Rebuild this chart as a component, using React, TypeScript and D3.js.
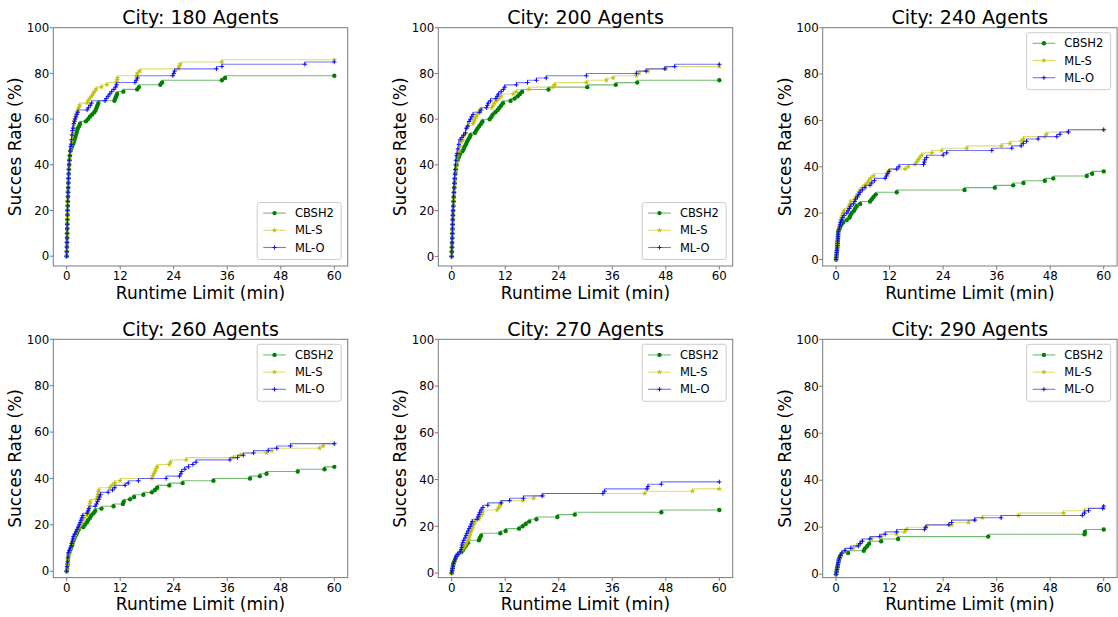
import React from "react";
import * as d3 from "d3";

type Pt = [number, number];

const panelTitles = ["City: 180 Agents", "City: 200 Agents", "City: 240 Agents", "City: 260 Agents", "City: 270 Agents", "City: 290 Agents"];
const seriesNames = ["CBSH2", "ML-S", "ML-O"];
const legendCorners = ["lower right", "lower right", "upper right", "upper right", "upper right", "upper right"];
const xTicks = [0, 12, 24, 36, 48, 60];
const yTicks = [0, 20, 40, 60, 80, 100];

// ---- 180 agents ----
const cbsh2_180: Pt[] = [[0,0],[0.03,2],[0.05,4],[0.07,6],[0.09,8],[0.1,10],[0.12,12],[0.14,14],[0.16,16],[0.18,18],[0.2,20],[0.23,22],[0.26,24],[0.29,26],[0.32,28],[0.35,30],[0.38,32],[0.42,34],[0.46,36],[0.5,38],[0.55,40],[0.62,42],[0.72,44],[0.85,46],[1.0,47],[1.2,48],[1.4,49],[1.6,50],[1.75,51],[1.9,52],[2.05,53],[2.2,54],[2.35,55],[2.5,56],[2.8,57],[3.0,58],[4.3,59],[4.8,60],[5.2,61],[5.7,62],[6.2,63],[6.5,64],[6.7,65],[6.9,66],[7.1,67],[10.7,68],[10.9,69],[11.1,70],[11.3,71],[12.7,72],[15.8,73],[16.2,74],[21.0,75],[21.4,76],[34.8,77],[35.5,78],[60,79]];
const mls_180: Pt[] = [[0,0],[0.03,2],[0.05,4],[0.07,6],[0.09,8],[0.1,10],[0.12,12],[0.14,14],[0.16,16],[0.18,18],[0.2,20],[0.22,22],[0.24,24],[0.27,26],[0.3,28],[0.33,30],[0.36,32],[0.4,34],[0.44,36],[0.5,38],[0.56,40],[0.64,42],[0.75,44],[0.9,46],[1.0,48],[1.1,50],[1.2,51],[1.3,53],[1.4,54],[1.5,56],[1.6,57],[1.7,59],[1.8,60],[1.9,61],[2.1,62],[2.3,63],[2.5,64],[2.7,65],[2.9,66],[4.6,67],[4.8,68],[5.2,69],[5.6,70],[5.9,71],[6.2,72],[6.6,73],[7.8,74],[9.0,75],[11.1,76],[11.3,77],[11.4,78],[15.6,79],[15.9,80],[16.4,81],[25.0,82],[25.2,83],[25.5,84],[34.8,85],[60,86]];
const mlo_180: Pt[] = [[0,0],[0.03,2],[0.05,4],[0.07,6],[0.09,8],[0.1,10],[0.12,12],[0.14,14],[0.16,16],[0.18,18],[0.2,20],[0.22,22],[0.24,24],[0.27,26],[0.3,28],[0.33,30],[0.36,32],[0.4,34],[0.44,36],[0.49,38],[0.55,40],[0.62,42],[0.7,44],[0.8,46],[0.9,48],[1.0,49],[1.1,51],[1.2,53],[1.3,55],[1.4,56],[1.6,58],[1.75,59],[1.9,60],[2.1,61],[2.3,62],[2.5,63],[4.6,64],[4.9,65],[5.3,66],[5.6,67],[8.6,68],[8.9,69],[9.3,70],[9.7,71],[10.1,72],[10.6,73],[11.0,74],[11.2,75],[15.3,76],[15.6,77],[15.9,78],[23.8,79],[24.0,80],[24.2,81],[33.6,82],[34.8,83],[53.4,84],[60,85]];

// ---- 200 agents ----
const cbsh2_200: Pt[] = [[0,0],[0.03,2],[0.06,4],[0.09,6],[0.12,8],[0.15,10],[0.18,12],[0.21,14],[0.25,16],[0.29,18],[0.33,20],[0.38,22],[0.43,24],[0.48,26],[0.54,28],[0.6,30],[0.67,32],[0.75,34],[0.85,36],[0.95,38],[1.1,40],[1.3,42],[1.5,43],[1.7,44],[1.9,45],[2.4,46],[2.7,47],[2.9,48],[3.2,49],[3.4,50],[3.7,51],[4.0,52],[4.2,53],[5.2,54],[5.5,55],[5.8,56],[6.2,57],[6.6,58],[6.9,59],[8.5,60],[8.9,61],[9.2,62],[9.8,63],[10.3,64],[10.7,65],[11.1,66],[11.5,67],[13.2,68],[14.1,69],[14.8,70],[15.3,71],[15.8,72],[21.7,73],[30.4,74],[36.8,75],[41.6,76],[60,77]];
const mls_200: Pt[] = [[0,0],[0.03,2],[0.06,4],[0.09,6],[0.12,8],[0.15,10],[0.18,12],[0.21,14],[0.24,16],[0.28,18],[0.32,20],[0.36,22],[0.41,24],[0.46,26],[0.52,28],[0.58,30],[0.65,32],[0.73,34],[0.82,36],[0.92,38],[1.0,40],[1.2,42],[1.4,44],[1.7,46],[1.9,48],[2.2,50],[2.5,51],[2.8,53],[3.1,54],[3.4,56],[3.7,57],[4.8,58],[5.0,59],[5.2,60],[5.5,61],[5.7,62],[6.1,63],[6.3,64],[9.0,65],[9.3,66],[9.6,67],[10.1,68],[10.6,69],[11.1,70],[13.8,71],[14.5,72],[17.3,73],[22.7,74],[23.1,75],[30.2,76],[34.7,77],[36.2,78],[41.4,79],[42.0,80],[44.0,81],[48.0,82],[60,83]];
const mlo_200: Pt[] = [[0,0],[0.03,2],[0.06,4],[0.09,6],[0.12,8],[0.15,10],[0.18,12],[0.21,14],[0.24,16],[0.27,18],[0.3,20],[0.34,22],[0.38,24],[0.42,26],[0.47,28],[0.52,30],[0.58,32],[0.64,34],[0.7,36],[0.78,38],[0.86,40],[0.95,42],[1.05,44],[1.2,45],[1.4,47],[1.6,49],[1.9,51],[2.3,52],[2.7,53],[3.1,54],[3.3,56],[3.6,57],[3.9,59],[4.2,60],[4.5,61],[4.8,62],[6.3,63],[6.6,64],[7.8,65],[8.0,66],[8.2,67],[8.7,68],[9.9,69],[10.2,70],[10.5,71],[11.1,72],[11.6,73],[11.9,74],[14.5,75],[17.0,76],[19.0,77],[21.2,78],[30.2,79],[41.4,80],[43.6,81],[47.8,82],[50.0,83],[60,84]];

// ---- 240 agents ----
const cbsh2_240: Pt[] = [[0,0],[0.05,1],[0.1,2],[0.15,3],[0.2,4],[0.25,5],[0.3,6],[0.33,7],[0.36,8],[0.4,9],[0.43,10],[0.46,11],[0.5,12],[0.7,13],[0.9,14],[1.2,15],[1.6,16],[2.4,17],[3.0,18],[3.2,19],[3.5,20],[4.0,21],[4.3,22],[4.6,23],[5.4,24],[7.6,25],[8.0,26],[8.4,27],[8.9,28],[13.6,29],[28.8,30],[35.6,31],[39.7,32],[42.0,33],[46.8,34],[48.7,35],[56.2,36],[57.4,37],[60,38]];
const mls_240: Pt[] = [[0,0],[0.05,1],[0.1,2],[0.15,3],[0.2,4],[0.25,5],[0.3,6],[0.33,7],[0.36,8],[0.4,9],[0.43,10],[0.46,11],[0.5,12],[0.6,13],[0.7,14],[0.8,15],[0.9,16],[1.0,17],[1.2,18],[1.3,19],[1.5,20],[1.8,21],[2.7,22],[2.9,23],[3.1,24],[3.3,25],[4.2,26],[4.4,27],[4.8,28],[5.1,29],[5.4,30],[5.9,31],[6.5,32],[7.0,33],[7.3,34],[7.8,35],[8.4,36],[11.3,37],[11.7,38],[15.5,39],[16.2,40],[17.7,41],[18.1,42],[18.4,43],[18.8,44],[19.2,45],[21.5,46],[23.7,47],[29.3,48],[37.1,49],[39.0,50],[41.6,51],[42.0,52],[46.8,53],[47.2,54],[52.0,55],[60,56]];
const mlo_240: Pt[] = [[0,0],[0.05,1],[0.1,2],[0.15,3],[0.2,4],[0.25,5],[0.3,6],[0.33,7],[0.36,8],[0.4,9],[0.43,10],[0.46,11],[0.5,12],[0.65,13],[0.8,14],[0.9,15],[1.0,16],[1.25,17],[1.5,18],[1.8,19],[2.4,20],[2.7,21],[3.0,22],[3.3,23],[3.9,24],[4.2,25],[4.4,26],[4.8,27],[5.1,28],[5.4,29],[5.9,30],[6.5,31],[7.6,32],[8.0,33],[8.6,34],[11.0,35],[11.3,36],[11.6,37],[11.9,38],[13.6,39],[14.1,40],[19.6,41],[19.8,42],[19.9,43],[20.3,44],[24.0,45],[24.8,46],[34.9,47],[39.4,48],[41.5,49],[42.0,50],[42.7,51],[45.3,52],[49.5,53],[50.2,54],[52.1,55],[60,56]];

// ---- 260 agents ----
const cbsh2_260: Pt[] = [[0,0],[0.1,1],[0.2,3],[0.3,5],[0.4,7],[0.6,8],[0.75,9],[1.0,10],[1.2,11],[1.3,12],[1.5,13],[1.7,14],[1.9,15],[2.2,16],[2.4,17],[2.7,18],[3.7,19],[4.1,20],[4.5,21],[4.8,22],[5.2,23],[5.5,24],[6.0,25],[6.4,26],[7.8,27],[10.5,28],[12.6,29],[12.8,30],[14.2,31],[15.1,32],[17.2,33],[19.1,34],[19.8,35],[20.3,36],[23.0,37],[26.0,38],[32.9,39],[41.1,40],[43.3,41],[44.8,42],[51.8,43],[57.8,44],[60,45]];
const mls_260: Pt[] = [[0,0],[0.1,1],[0.2,3],[0.3,5],[0.4,7],[0.6,8],[0.8,9],[1.0,10],[1.2,12],[1.4,13],[1.6,14],[1.8,15],[2.0,16],[2.2,17],[2.5,18],[2.8,19],[3.1,20],[3.4,21],[3.7,22],[3.9,23],[4.5,24],[4.7,25],[4.9,26],[5.0,27],[5.1,28],[5.2,29],[5.3,30],[6.7,31],[6.9,32],[7.0,33],[7.1,34],[7.2,35],[9.7,36],[10.2,37],[10.8,38],[12.0,39],[19.1,40],[19.3,41],[19.5,42],[19.8,43],[20.0,44],[20.3,45],[23.0,46],[23.3,47],[26.8,48],[37.4,49],[38.9,50],[44.8,51],[46.0,52],[56.7,53],[57.5,54],[60,55]];
const mlo_260: Pt[] = [[0,0],[0.1,2],[0.2,4],[0.3,6],[0.4,8],[0.6,9],[0.8,10],[1.0,11],[1.1,12],[1.3,13],[1.4,14],[1.5,15],[1.8,16],[2.1,17],[2.3,18],[2.6,19],[2.8,20],[3.0,21],[3.2,22],[3.4,23],[3.6,24],[4.6,25],[4.8,26],[5.0,27],[6.4,28],[6.7,29],[6.9,30],[7.2,31],[7.4,32],[7.6,33],[9.3,34],[10.3,35],[10.8,36],[13.1,37],[13.8,38],[16.1,39],[22.3,40],[25.3,41],[25.6,42],[25.8,43],[26.5,44],[27.3,45],[28.3,46],[29.0,47],[36.6,48],[38.3,49],[39.6,50],[41.9,51],[45.2,52],[47.1,53],[50.2,54],[60,55]];

// ---- 270 agents ----
const cbsh2_270: Pt[] = [[0,0],[0.1,1],[0.2,2],[0.3,3],[0.4,4],[0.6,5],[0.8,6],[1.0,7],[1.4,8],[2.2,9],[2.6,10],[2.9,11],[3.3,12],[3.7,13],[6.1,14],[6.3,15],[6.6,16],[10.9,17],[12.1,18],[15.1,19],[15.9,20],[16.6,21],[17.4,22],[19.0,23],[23.7,24],[27.6,25],[47.0,26],[60,27]];
const mls_270: Pt[] = [[0,0],[0.1,1],[0.2,2],[0.3,3],[0.4,4],[0.6,5],[0.8,6],[1.0,7],[1.4,8],[1.9,9],[2.5,10],[2.8,11],[3.1,12],[3.4,13],[3.7,14],[3.9,15],[4.0,16],[4.2,17],[4.4,18],[4.6,19],[4.8,20],[5.0,21],[5.2,22],[6.1,23],[6.3,24],[6.7,25],[7.0,26],[10.2,27],[10.6,28],[10.9,29],[11.1,30],[16.0,31],[18.4,32],[20.5,33],[43.3,34],[54.0,35],[60,36]];
const mlo_270: Pt[] = [[0,0],[0.1,1],[0.2,2],[0.3,3],[0.4,4],[0.6,5],[0.8,6],[1.0,7],[1.4,8],[1.9,9],[2.1,10],[2.2,11],[2.3,12],[2.5,13],[2.7,14],[3.0,15],[3.2,16],[3.4,17],[3.7,18],[3.9,19],[4.2,20],[4.4,21],[4.6,22],[5.7,23],[5.9,24],[6.1,25],[6.3,26],[6.6,27],[7.0,28],[8.1,29],[11.1,30],[13.0,31],[16.1,32],[20.3,33],[33.9,34],[34.3,35],[43.8,36],[44.0,37],[47.0,38],[60,39]];

// ---- 290 agents ----
const cbsh2_290: Pt[] = [[0,0],[0.1,1],[0.2,2],[0.3,3],[0.4,4],[0.5,5],[0.6,6],[0.8,7],[1.0,8],[2.7,9],[6.2,10],[6.5,11],[7.0,12],[7.4,13],[10.1,14],[13.9,15],[34.1,16],[55.7,17],[55.8,18],[60,19]];
const mls_290: Pt[] = [[0,0],[0.1,1],[0.2,2],[0.3,3],[0.4,4],[0.5,5],[0.6,6],[0.8,7],[1.0,8],[1.3,9],[2.0,10],[3.9,11],[4.6,12],[5.3,13],[5.7,14],[8.0,15],[10.2,16],[13.6,17],[15.4,18],[15.8,19],[20.3,20],[25.9,21],[29.7,22],[31.1,23],[32.8,24],[40.9,25],[51.0,26],[55.7,27],[60,28]];
const mlo_290: Pt[] = [[0,0],[0.1,1],[0.2,2],[0.3,3],[0.4,4],[0.5,5],[0.6,6],[0.8,7],[1.0,8],[1.3,9],[2.0,10],[3.3,11],[5.0,12],[5.4,13],[5.9,14],[7.6,15],[9.8,16],[11.0,17],[13.6,18],[19.8,19],[20.1,20],[25.3,21],[25.9,22],[31.1,23],[37.0,24],[55.2,25],[55.7,26],[56.6,27],[59.8,28],[60,29]];

const panelSeries: Pt[][][] = [
  [cbsh2_180, mls_180, mlo_180],
  [cbsh2_200, mls_200, mlo_200],
  [cbsh2_240, mls_240, mlo_240],
  [cbsh2_260, mls_260, mlo_260],
  [cbsh2_270, mls_270, mlo_270],
  [cbsh2_290, mls_290, mlo_290],
];

const COLORS = ["#008000", "#bfbf00", "#0000ff"];
const FONT = "DejaVu Sans, sans-serif";
const colLeft = [53.3, 438.3, 822.7];
const rowTop = [27.7, 339.3];
const AXW = 294.4;
const AXH = 238.3;
const SPINE = "#7a7a7a";

const starPath = d3.symbol().type(d3.symbolStar).size(7)() as string;
const plusPath = "M-2.2,0H2.2M0,-2.2V2.2";

function Marker({ k, x, y }: { k: number; x: number; y: number }) {
  if (k === 0) return <circle cx={x} cy={y} r={2.2} fill={COLORS[0]} />;
  if (k === 1) return <path d={starPath} transform={`translate(${x},${y})`} fill={COLORS[1]} stroke={COLORS[1]} strokeWidth={0.3} />;
  return <path d={plusPath} transform={`translate(${x},${y})`} stroke={COLORS[2]} strokeWidth={0.9} fill="none" />;
}

function Panel({ idx }: { idx: number }) {
  const left = colLeft[idx % 3];
  const top = rowTop[Math.floor(idx / 3)];
  const right = left + AXW;
  const bottom = top + AXH;
  const series = panelSeries[idx];
  const maxY = d3.max(series.flat(), (d) => d[1]) as number;
  const x = d3.scaleLinear().domain([-3, 63]).range([left, right]);
  const y = d3.scaleLinear().domain([-0.05 * maxY, 100]).range([bottom, top]);
  const line = d3
    .line<Pt>()
    .x((d) => x(d[0]))
    .y((d) => y(d[1]))
    .curve(d3.curveStepBefore);

  const lw = 84, lh = 57;
  const corner = legendCorners[idx];
  const lx = right - 6.5 - lw;
  const ly = corner === "lower right" ? bottom - 6.5 - lh : top + 5;
  const rowY = [10.6, 27.8, 45.0];

  return (
    <g>
      <rect x={left} y={top} width={AXW} height={AXH} fill="white" />
      <defs>
        <clipPath id={`clip${idx}`}>
          <rect x={left} y={top} width={AXW} height={AXH} />
        </clipPath>
      </defs>
      <g clipPath={`url(#clip${idx})`}>
        {series.map((s, k) => (
          <g key={k}>
            <path d={line(s) as string} fill="none" stroke={COLORS[k]} strokeWidth={1.1} strokeOpacity={0.55} />
            {s.map((d, j) => (
              <Marker key={j} k={k} x={x(d[0])} y={y(d[1])} />
            ))}
          </g>
        ))}
      </g>
      <rect x={left} y={top} width={AXW} height={AXH} fill="none" stroke={SPINE} strokeWidth={1} />
      {xTicks.map((t) => (
        <g key={`xt${t}`}>
          <line x1={x(t)} x2={x(t)} y1={bottom} y2={bottom + 3.5} stroke={SPINE} strokeWidth={1} />
          <text x={x(t)} y={bottom + 14} textAnchor="middle" fontFamily={FONT} fontSize={11.8} fill="#000">
            {t}
          </text>
        </g>
      ))}
      {yTicks.map((t) => (
        <g key={`yt${t}`}>
          <line x1={left - 3.5} x2={left} y1={y(t)} y2={y(t)} stroke={SPINE} strokeWidth={1} />
          <text x={left - 4} y={y(t)} dy="0.36em" textAnchor="end" fontFamily={FONT} fontSize={11.8} fill="#000">
            {t}
          </text>
        </g>
      ))}
      <text x={(left + right) / 2} y={top - 3.7} textAnchor="middle" fontFamily={FONT} fontSize={19} fill="#000">
        {panelTitles[idx]}
      </text>
      <text x={(left + right) / 2} y={bottom + 32.8} textAnchor="middle" fontFamily={FONT} fontSize={17} fill="#000">
        Runtime Limit (min)
      </text>
      <text
        transform={`translate(${left - 32},${(top + bottom) / 2}) rotate(-90)`}
        textAnchor="middle"
        fontFamily={FONT}
        fontSize={17}
        fill="#000"
      >
        Succes Rate (%)
      </text>
      <g>
        <rect x={lx} y={ly} width={lw} height={lh} rx={2.5} fill="white" fillOpacity={0.85} stroke="#cccccc" strokeWidth={1} />
        {seriesNames.map((n, k) => (
          <g key={n}>
            <line x1={lx + 6} x2={lx + 28.7} y1={ly + rowY[k]} y2={ly + rowY[k]} stroke={COLORS[k]} strokeWidth={1.1} strokeOpacity={0.55} />
            <Marker k={k} x={lx + 17.3} y={ly + rowY[k]} />
            <text x={lx + 37.7} y={ly + rowY[k]} dy="0.36em" fontFamily={FONT} fontSize={11.5} fill="#000">
              {n}
            </text>
          </g>
        ))}
      </g>
    </g>
  );
}

export default function App() {
  return (
    <svg
      width={1118}
      height={617}
      viewBox="0 0 1118 617"
      style={{ position: "absolute", left: 0, top: 0, background: "white", display: "block" }}
    >
      <rect x={0} y={0} width={1118} height={617} fill="white" />
      {panelTitles.map((_, i) => (
        <Panel key={i} idx={i} />
      ))}
    </svg>
  );
}
